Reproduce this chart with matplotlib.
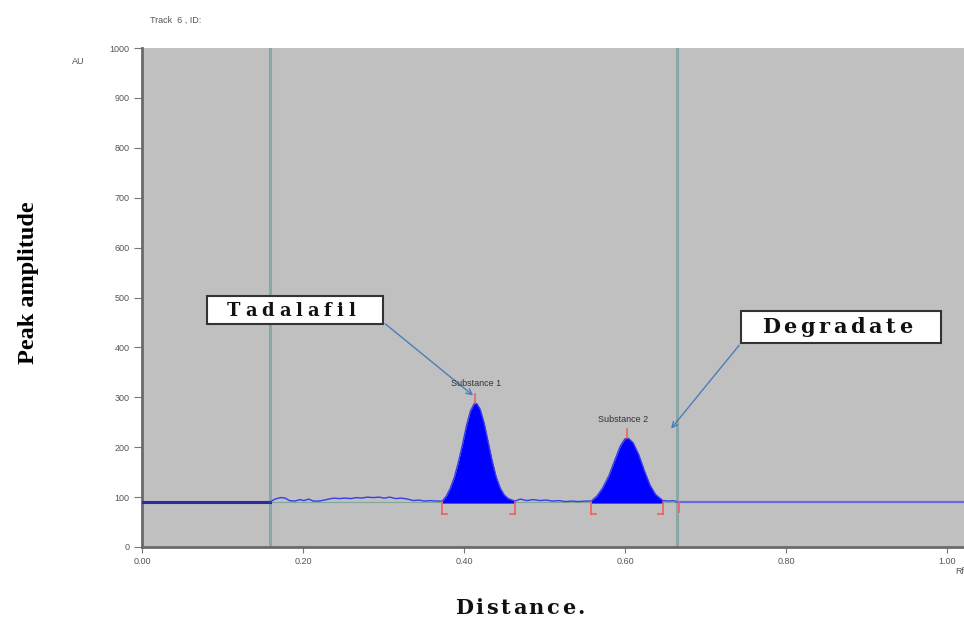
import matplotlib
matplotlib.use("Agg")
import matplotlib.pyplot as plt
from matplotlib.patches import Rectangle

# ---- data ----
base_x = [0.000, 0.159, 0.165, 0.172, 0.178, 0.183, 0.190, 0.196, 0.201, 0.207, 0.213, 0.220,
          0.226, 0.232, 0.238, 0.245, 0.252, 0.259, 0.266, 0.273, 0.280, 0.287, 0.294, 0.301,
          0.308, 0.315, 0.322, 0.330, 0.337, 0.344, 0.351, 0.358, 0.365]
base_y = [90, 90, 96, 99, 98, 93, 92, 95, 93, 96, 92, 92,
          94, 96, 98, 97, 98, 97, 99, 98, 100, 99, 100, 98,
          100, 97, 98, 96, 93, 94, 92, 93, 92]

peak1_x = [0.373, 0.378, 0.383, 0.388, 0.393, 0.398, 0.403, 0.408, 0.413, 0.416, 0.420,
           0.425, 0.430, 0.435, 0.440, 0.445, 0.450, 0.455, 0.463]
peak1_y = [92, 102, 118, 140, 170, 205, 243, 273, 288, 287, 276,
           248, 210, 172, 140, 118, 104, 97, 92]

mid_x = [0.470, 0.478, 0.486, 0.494, 0.502, 0.510, 0.518, 0.526, 0.534, 0.542, 0.550]
mid_y = [96, 93, 95, 93, 94, 92, 93, 91, 92, 91, 92]

peak2_x = [0.558, 0.565, 0.572, 0.580, 0.587, 0.594, 0.600, 0.604, 0.610, 0.617, 0.624,
           0.631, 0.638, 0.647]
peak2_y = [92, 102, 118, 143, 173, 202, 217, 218, 209, 185, 153, 124, 105, 93]

tail_x = [0.655, 0.660, 0.665, 1.021]
tail_y = [92, 93, 90, 90]

peak_bounds = [0.373, 0.463, 0.558, 0.647]
peak_tops = [(0.414, 288), (0.602, 218)]
track_lines = [0.159, 0.665]
substance_labels = ["Substance 1", "Substance 2"]

yticks = list(range(0, 1001, 100))
xticks = [0.0, 0.2, 0.4, 0.6, 0.8, 1.0]
xtick_labels = ["0.00", "0.20", "0.40", "0.60", "0.80", "1.00"]

# ---- figure ----
fig = plt.figure(figsize=(9.64, 6.18), dpi=100)
ax = fig.add_axes([142/964, 71/618, 1 - 142/964, 499/618])
ax.set_facecolor("#c0c0c0")
ax.set_xlim(0, 1.021)
ax.set_ylim(0, 1000)

for xv in track_lines:
    ax.axvline(xv, color="#8aa6a6", lw=2.2, zorder=1)

ax.axhline(90, xmin=0.159/1.021, xmax=0.665/1.021, color="#7fa89a", lw=0.8, zorder=1)

ax.fill_between(peak1_x, 88, peak1_y, color="#0000ff", lw=0, zorder=3)
ax.fill_between(peak2_x, 88, peak2_y, color="#0000ff", lw=0, zorder=3)

ax.plot(base_x[:2], base_y[:2], color="#2b2ba0", lw=2.2, zorder=4)
wx = base_x[1:] + peak1_x + mid_x + peak2_x + tail_x[:3]
wy = base_y[1:] + peak1_y + mid_y + peak2_y + tail_y[:3]
ax.plot(wx, wy, color="#3a3aee", lw=1.0, zorder=4)
ax.plot(tail_x[2:], tail_y[2:], color="#6868e6", lw=1.6, zorder=4)

red = "#f06060"
for i, b in enumerate(peak_bounds):
    ax.plot([b, b], [90, 66], color=red, lw=1.2, zorder=5)
    d = 0.006 if i % 2 == 0 else -0.006
    ax.plot([b, b + d], [66, 66], color=red, lw=1.2, zorder=5)
ax.plot([0.667, 0.667], [90, 70], color=red, lw=1.2, zorder=5)
for (px, py) in peak_tops:
    ax.plot([px, px], [py, py + 18], color=red, lw=1.2, zorder=5)

ax.text(0.384, 322, substance_labels[0], fontsize=6.5, color="#333333",
        family="Liberation Sans", zorder=6)
ax.text(0.567, 250, substance_labels[1], fontsize=6.5, color="#333333",
        family="Liberation Sans", zorder=6)

for s in ["top", "right"]:
    ax.spines[s].set_visible(False)
for s in ["left", "bottom"]:
    ax.spines[s].set_color("#6a6a6a")
    ax.spines[s].set_linewidth(2)
ax.set_yticks(yticks)
ax.set_yticklabels([str(v) for v in yticks])
ax.set_xticks(xticks)
ax.set_xticklabels(xtick_labels)
ax.tick_params(axis="y", labelsize=6.5, labelcolor="#555555", color="#777777",
               length=6, width=0.8, pad=3)
ax.tick_params(axis="x", labelsize=6.5, labelcolor="#555555", color="#777777",
               length=4, width=0.8)
for lab in ax.get_xticklabels() + ax.get_yticklabels():
    lab.set_family("Liberation Sans")

fig.text(150/964, 1 - 20/618, "Track  6 , ID:", fontsize=6.5, color="#555555",
         family="Liberation Sans", va="center")
fig.text(72/964, 1 - 62/618, "AU", fontsize=6.5, color="#555555",
         family="Liberation Sans", va="center")
fig.text(955/964, 1 - 571/618, "Rf", fontsize=6.5, color="#555555",
         family="Liberation Sans", va="center")

fig.text(29/964, 1 - 283/618, "Peak amplitude", rotation=90, fontsize=17.5,
         fontweight="bold", family="Liberation Serif", ha="center", va="center")

renderer = fig.canvas.get_renderer()


def tracked(word, cx, base_y, size, width_px, zorder=11):
    """Draw a word with letter spacing so it spans width_px, centred at cx; baseline at base_y px."""
    arts = []
    widths = []
    for ch in word:
        t = fig.text(0, 0, ch, fontsize=size, fontweight="bold", color="#111111",
                     family="DejaVu Serif", ha="left", va="baseline", zorder=zorder)
        w = t.get_window_extent(renderer).width
        arts.append(t)
        widths.append(w)
    total = sum(widths)
    gap = (width_px - total) / (len(word) - 1)
    x = cx - width_px / 2
    for t, w in zip(arts, widths):
        t.set_position((x / 964, 1 - base_y / 618))
        x += w + gap


tracked("Distance.", 520, 614, 15, 130)


def box(x0, y0, x1, y1):
    r = Rectangle((x0/964, 1 - y1/618), (x1 - x0)/964, (y1 - y0)/618,
                  transform=fig.transFigure, facecolor="white", edgecolor="#333333",
                  lw=1.5, zorder=10)
    fig.patches.append(r)


box(207, 296, 383, 324)
tracked("Tadalafil", 291, 316, 13, 128)
box(741, 311, 941, 343)
tracked("Degradate", 837, 333, 15, 150)

arrow_col = "#4a7ebb"
ax.annotate("", xy=(0.414, 300), xycoords="data",
            xytext=(383/964, 1 - 322/618), textcoords="figure fraction",
            arrowprops=dict(arrowstyle="->", color=arrow_col, lw=1.0))
ax.annotate("", xy=(0.655, 233), xycoords="data",
            xytext=(741/964, 1 - 343/618), textcoords="figure fraction",
            arrowprops=dict(arrowstyle="->", color=arrow_col, lw=1.0))

fig.savefig("out.png", dpi=100)
